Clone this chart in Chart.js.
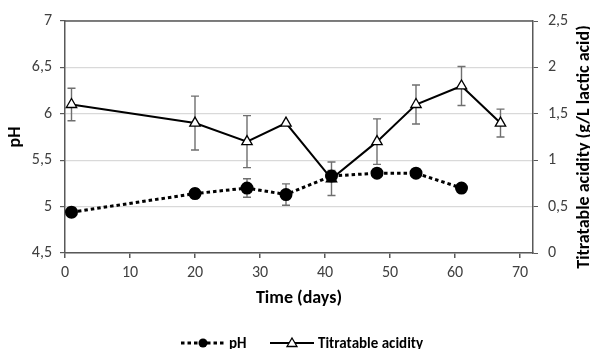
<!DOCTYPE html>
<html>
<head>
<meta charset="utf-8">
<script src="https://cdn.jsdelivr.net/npm/chart.js@4"></script>
<style>
  html, body { margin: 0; padding: 0; background: #fff; }
  #wrap { width: 590px; height: 349px; }
</style>
</head>
<body>
<div id="wrap"><canvas id="js--chart"></canvas></div>
<script>
// data
const days = [1, 20, 28, 34, 41, 48, 54, 61];
const phValues = [4.94, 5.14, 5.20, 5.13, 5.33, 5.36, 5.36, 5.20];
const phErr = [0.05, 0.05, 0.10, 0.115, 0.06, 0.04, 0.04, 0];

const taDays = [1, 20, 28, 34, 41, 48, 54, 61, 67];
const taValues = [1.60, 1.40, 1.20, 1.40, 0.80, 1.20, 1.60, 1.80, 1.40];
const taErr = [0.175, 0.29, 0.28, 0, 0.18, 0.245, 0.21, 0.21, 0.15];

const xTicks = [0, 10, 20, 30, 40, 50, 60, 70];

const FONT = 'Carlito, "Liberation Sans Narrow", "Open Sans", sans-serif';
const AXIS = '#595959';

function comma(v) {
    return String(v).replace('.', ',');
}

// error bars, drawn under the markers
const errorBars = {
    id: 'errorBars',
    beforeDatasetsDraw(chart) {
        const ctx = chart.ctx;
        const x = chart.scales.x;
        const sets = [
            { xs: days, ys: phValues, err: phErr, axis: chart.scales.y },
            { xs: taDays, ys: taValues, err: taErr, axis: chart.scales.y2 }
        ];
        ctx.save();
        ctx.strokeStyle = '#6f6f6f';
        ctx.lineWidth = 1.4;
        sets.forEach(s => {
            s.xs.forEach((d, i) => {
                if (!s.err[i]) return;
                const px = x.getPixelForValue(d);
                const top = s.axis.getPixelForValue(s.ys[i] + s.err[i]);
                const bot = s.axis.getPixelForValue(s.ys[i] - s.err[i]);
                ctx.beginPath();
                ctx.moveTo(px, top); ctx.lineTo(px, bot);
                ctx.moveTo(px - 4, top); ctx.lineTo(px + 4, top);
                ctx.moveTo(px - 4, bot); ctx.lineTo(px + 4, bot);
                ctx.stroke();
            });
        });
        ctx.restore();
    }
};

// top border, right axis title and legend
const frameAndLegend = {
    id: 'frameAndLegend',
    afterDraw(chart) {
        const ctx = chart.ctx;
        const a = chart.chartArea;
        ctx.save();
        ctx.strokeStyle = AXIS;
        ctx.lineWidth = 1.5;
        ctx.beginPath();
        ctx.moveTo(a.left, a.top);
        ctx.lineTo(a.right, a.top);
        ctx.stroke();

        // right axis title (sits a little below centre, like the original)
        ctx.save();
        ctx.translate(584, 147);
        ctx.rotate(-Math.PI / 2);
        ctx.fillStyle = '#000';
        ctx.font = 'bold 18px ' + FONT;
        ctx.textAlign = 'center';
        ctx.textBaseline = 'middle';
        ctx.fillText('Titratable acidity (g/L lactic acid)', 0, 0);
        ctx.restore();

        const y = 343;
        // pH
        ctx.strokeStyle = '#000';
        ctx.lineWidth = 3;
        ctx.setLineDash([3.5, 3]);
        ctx.beginPath();
        ctx.moveTo(181, y); ctx.lineTo(225, y);
        ctx.stroke();
        ctx.setLineDash([]);
        ctx.fillStyle = '#000';
        ctx.beginPath();
        ctx.arc(203, y, 4.5, 0, Math.PI * 2);
        ctx.fill();
        // Titratable acidity
        ctx.lineWidth = 2;
        ctx.beginPath();
        ctx.moveTo(270, y); ctx.lineTo(314, y);
        ctx.stroke();
        ctx.fillStyle = '#fff';
        ctx.lineWidth = 1.3;
        ctx.beginPath();
        ctx.moveTo(292, y - 5);
        ctx.lineTo(297, y + 3.5);
        ctx.lineTo(287, y + 3.5);
        ctx.closePath();
        ctx.fill();
        ctx.stroke();

        ctx.fillStyle = '#000';
        ctx.font = 'bold 15px ' + FONT;
        ctx.textBaseline = 'middle';
        ctx.fillText('pH', 229, y + 1);
        ctx.fillText('Titratable acidity', 318, y + 1);
        ctx.restore();
    }
};

const data = {
    datasets: [
        {
            label: 'pH',
            data: days.map((d, i) => ({ x: d, y: phValues[i] })),
            yAxisID: 'y',
            borderColor: '#000',
            borderWidth: 3,
            borderDash: [3.5, 3],
            pointStyle: 'circle',
            pointRadius: 5,
            pointBackgroundColor: '#000',
            pointBorderColor: '#000',
            tension: 0
        },
        {
            label: 'Titratable acidity',
            data: taDays.map((d, i) => ({ x: d, y: taValues[i] })),
            yAxisID: 'y2',
            borderColor: '#000',
            borderWidth: 2,
            pointStyle: 'triangle',
            pointRadius: 6,
            pointBorderWidth: 1.3,
            pointBackgroundColor: '#fff',
            pointBorderColor: '#000',
            tension: 0
        }
    ]
};

const tickFont = { family: FONT, size: 16 };
const titleFont = { family: FONT, size: 18, weight: 'bold' };

const config = {
    type: 'line',
    data: data,
    options: {
        responsive: true,
        maintainAspectRatio: false,
        animation: false,
        layout: { padding: { top: 21, left: 2, right: 0, bottom: 36 } },
        plugins: {
            legend: { display: false },
            tooltip: { enabled: false }
        },
        scales: {
            x: {
                type: 'linear',
                min: 0,
                max: 72,
                afterBuildTicks: s => { s.ticks = xTicks.map(v => ({ value: v })); },
                afterFit: s => { s.height = 60; },
                grid: { drawOnChartArea: false, tickLength: 5, color: AXIS, lineWidth: 1.5 },
                border: { color: AXIS, width: 1.5 },
                ticks: { color: '#404040', font: tickFont, padding: 5 },
                title: {
                    display: true, text: 'Time (days)', color: '#000',
                    font: titleFont,
                    padding: { top: 2, bottom: 4 }
                }
            },
            y: {
                position: 'left',
                min: 4.5,
                max: 7,
                afterFit: s => { s.width = 63; },
                ticks: { stepSize: 0.5, callback: v => comma(v), color: '#404040', font: tickFont, padding: 8 },
                grid: { color: '#d9d9d9', lineWidth: 1.2, tickColor: AXIS, tickLength: 5 },
                border: { color: AXIS, width: 1.5 },
                title: {
                    display: true, text: 'pH', color: '#000',
                    font: titleFont,
                    padding: { top: 3, bottom: 3 }
                }
            },
            y2: {
                position: 'right',
                min: 0,
                max: 2.5,
                afterFit: s => { s.width = 57; },
                ticks: { stepSize: 0.5, callback: v => comma(v), color: '#404040', font: tickFont, padding: 10 },
                grid: { drawOnChartArea: false, tickColor: AXIS, tickLength: 5 },
                border: { color: AXIS, width: 1.5 },
                title: { display: false }
            }
        }
    },
    plugins: [errorBars, frameAndLegend]
};

new Chart(document.getElementById('js--chart'), config);
</script>
</body>
</html>
